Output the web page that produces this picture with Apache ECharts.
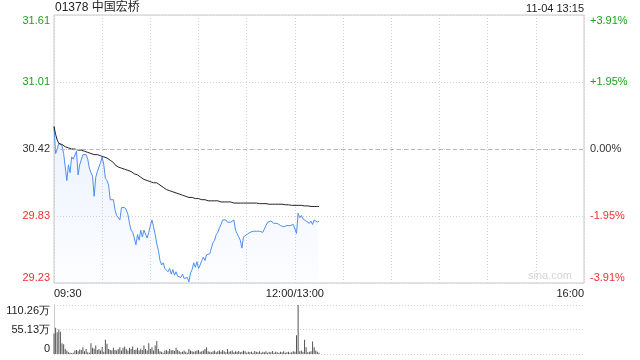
<!DOCTYPE html>
<html><head><meta charset="utf-8">
<script src="https://cdn.jsdelivr.net/npm/echarts@6/dist/echarts.min.js"></script>
<style>html,body{margin:0;padding:0;background:#fff}#c{width:640px;height:360px}</style>
</head><body><div id="c"></div>
<script>
var titleText = '01378 中国宏桥';
var timeText = '11-04 13:15';
var prevClose = 30.42;
var priceTickLabels = ['29.23', '29.83', '30.42', '31.01', '31.61'];
var pctTickLabels = ['-3.91%', '-1.95%', '0.00%', '+1.95%', '+3.91%'];
var tickColors = ['#f23030', '#f23030', '#333333', '#1aa41a', '#1aa41a'];
var timeLabels = {0: '09:30', 150: '12:00/13:00', 330: '16:00'};
var volTickLabels = ['0', '55.13万', '110.26万'];

var prices = [
30.62,30.38,30.42,30.47,30.46,30.45,30.38,30.26,30.14,30.28,
30.21,30.35,30.33,30.32,30.40,30.19,30.28,30.27,30.37,30.37,
30.37,30.33,30.25,30.21,30.18,30.00,30.17,30.22,30.23,30.30,
30.35,30.28,30.16,30.14,30.10,29.97,29.98,29.97,29.88,29.83,
29.82,29.79,29.90,29.91,29.90,29.88,29.84,29.76,29.70,29.68,
29.63,29.57,29.66,29.61,29.70,29.64,29.70,29.69,29.63,29.68,
29.74,29.79,29.73,29.66,29.58,29.52,29.43,29.39,29.41,29.36,
29.37,29.33,29.36,29.31,29.35,29.30,29.33,29.29,29.30,29.28,
29.31,29.27,29.26,29.28,29.24,29.32,29.35,29.41,29.37,29.42,
29.36,29.39,29.43,29.46,29.43,29.48,29.47,29.49,29.50,29.59,
29.61,29.66,29.68,29.72,29.75,29.79,29.80,29.79,29.77,29.77,
29.77,29.78,29.79,29.70,29.67,29.64,29.61,29.54,29.64,29.65,
29.66,29.67,29.68,29.68,29.69,29.69,29.69,29.68,29.69,29.69,
29.68,29.68,29.74,29.77,29.76,29.78,29.77,29.76,29.75,29.76,
29.75,29.74,29.73,29.73,29.74,29.74,29.74,29.74,29.74,29.75,
29.76,29.67,29.85,29.81,29.83,29.80,29.81,29.78,29.79,29.76,
29.78,29.75,29.79,29.80,29.77,29.78
];

var avgPrices = [
30.62,30.55,30.50,30.47,30.47,30.46,30.45,30.44,30.43,30.43,
30.42,30.42,30.42,30.42,30.41,30.41,30.41,30.41,30.40,30.40,
30.39,30.39,30.39,30.38,30.38,30.37,30.37,30.37,30.36,30.36,
30.35,30.35,30.35,30.34,30.33,30.32,30.31,30.30,30.28,30.27,
30.26,30.26,30.25,30.25,30.24,30.24,30.23,30.22,30.22,30.21,
30.20,30.19,30.19,30.18,30.17,30.16,30.15,30.15,30.14,30.14,
30.13,30.13,30.12,30.12,30.12,30.11,30.10,30.09,30.08,30.07,
30.06,30.06,30.05,30.04,30.04,30.03,30.03,30.02,30.02,30.01,
30.01,30.01,30.00,30.00,29.99,29.99,29.99,29.98,29.98,29.98,
29.98,29.97,29.97,29.97,29.97,29.97,29.96,29.96,29.96,29.96,
29.96,29.96,29.96,29.95,29.95,29.95,29.95,29.95,29.95,29.95,
29.95,29.95,29.94,29.94,29.94,29.94,29.94,29.94,29.94,29.94,
29.94,29.94,29.94,29.94,29.94,29.94,29.94,29.935,29.935,29.935,
29.935,29.935,29.935,29.93,29.93,29.93,29.93,29.93,29.93,29.93,
29.93,29.93,29.93,29.925,29.925,29.925,29.925,29.925,29.92,29.92,
29.92,29.92,29.92,29.92,29.92,29.915,29.915,29.915,29.915,29.915,
29.91,29.91,29.91,29.91,29.91,29.91
];

var volumes = [
46,59,49,55,50,24,22,11,8,4,
3,2,3,8,9,6,10,9,15,6,
11,4,3,24,14,12,19,9,11,8,
16,5,32,23,11,9,8,14,9,8,
11,15,8,14,17,11,8,14,11,17,
9,10,14,8,12,9,19,11,8,24,
11,15,8,19,29,11,6,5,3,8,
9,6,11,8,9,7,14,9,6,4,
5,8,5,3,11,8,6,5,6,8,
9,5,6,8,11,15,6,5,4,6,
8,4,6,8,5,9,6,4,11,5,
6,8,4,6,5,7,4,5,8,6,
3,5,4,5,3,7,5,4,6,3,
5,4,6,3,5,4,7,3,5,4,
3,5,4,6,3,4,5,3,4,6,
5,42,110.26,6,8,5,32,15,4,5,
6,28,15,8,5,3
];

function pct(p) { return (p - prevClose) / prevClose * 100; }

var font = '"Liberation Sans", Arial, sans-serif';
var chart = echarts.init(document.getElementById('c'), null, {renderer: 'canvas'});

chart.setOption({
  animation: false,
  backgroundColor: '#fff',
  grid: [
    {left: 54, right: 56, top: 15, height: 268, show: true, borderColor: '#c8c8c8', borderWidth: 1},
    {left: 54, right: 56, top: 305, height: 49}
  ],
  graphic: [
    {type: 'text', left: 55, top: 2, style: {text: titleText, font: '12px "Liberation Sans","Noto Sans CJK SC",sans-serif', fill: '#222'}},
    {type: 'text', right: 56, top: 3, style: {text: timeText, font: '11px ' + font, fill: '#222', textAlign: 'right'}},
    {type: 'text', right: 68, top: 270, style: {text: 'sina.com', font: '11px ' + font, fill: '#d4d4d4'}}
  ],
  xAxis: [
    {
      type: 'value', gridIndex: 0, min: 0, max: 330, interval: 30,
      axisLine: {show: false}, axisTick: {show: false},
      splitLine: {show: true, lineStyle: {color: '#d4d4d4', type: [1, 2], width: 1}},
      axisLabel: {
        show: true, margin: 5, color: '#222', fontSize: 11, fontFamily: font,
        showMinLabel: true, showMaxLabel: true, alignMinLabel: 'left', alignMaxLabel: 'right',
        formatter: function (v) { return timeLabels[v] || ''; }
      }
    },
    {
      type: 'value', gridIndex: 1, min: 0, max: 330, interval: 30,
      axisLine: {show: false}, axisTick: {show: false}, axisLabel: {show: false},
      splitLine: {show: false}
    }
  ],
  yAxis: [
    {
      type: 'value', gridIndex: 0, min: -3.91, max: 3.91, interval: 1.955, position: 'left',
      axisLine: {show: false}, axisTick: {show: false},
      splitLine: {show: true, lineStyle: {color: '#d4d4d4', type: [1, 2], width: 1}},
      axisLabel: {
        margin: 4, fontSize: 11, fontFamily: font, showMinLabel: true, showMaxLabel: true,
        verticalAlignMinLabel: 'bottom', verticalAlignMaxLabel: 'top',
        formatter: function (v, i) { return priceTickLabels[i]; },
        color: function (v, i) { return tickColors[i]; }
      }
    },
    {
      type: 'value', gridIndex: 0, min: -3.91, max: 3.91, interval: 1.955, position: 'right',
      axisLine: {show: false}, axisTick: {show: false}, splitLine: {show: false},
      axisLabel: {
        margin: 6, fontSize: 11, fontFamily: font, showMinLabel: true, showMaxLabel: true,
        verticalAlignMinLabel: 'bottom', verticalAlignMaxLabel: 'top',
        formatter: function (v, i) { return pctTickLabels[i]; },
        color: function (v, i) { return tickColors[i]; }
      }
    },
    {
      type: 'value', gridIndex: 1, min: 0, max: 110.26, interval: 55.13,
      axisLine: {show: true, lineStyle: {color: '#c8c8c8'}}, axisTick: {show: false},
      splitLine: {show: true, lineStyle: {color: '#d4d4d4', type: [1, 2], width: 1}},
      axisLabel: {
        margin: 4, fontSize: 11, fontFamily: font, color: '#222', showMinLabel: true, showMaxLabel: true,
        verticalAlignMinLabel: 'bottom', verticalAlignMaxLabel: 'top',
        formatter: function (v, i) { return volTickLabels[i]; }
      }
    }
  ],
  series: [
    {
      type: 'line', xAxisIndex: 0, yAxisIndex: 0, symbol: 'none', z: 3,
      data: prices.map(function (p, i) { return [i, pct(p)]; }),
      lineStyle: {color: '#4f8ef0', width: 1},
      areaStyle: {
        origin: 'start',
        color: new echarts.graphic.LinearGradient(0, 0, 0, 1, [
          {offset: 0, color: 'rgba(80,140,240,0.16)'},
          {offset: 1, color: 'rgba(80,140,240,0.02)'}
        ])
      }
    },
    {
      type: 'line', xAxisIndex: 0, yAxisIndex: 0, symbol: 'none', z: 4,
      data: avgPrices.map(function (p, i) { return [i, pct(p)]; }),
      lineStyle: {color: '#222', width: 1},
      markLine: {
        silent: true, symbol: 'none', label: {show: false},
        lineStyle: {color: '#b8b8b8', type: [4, 3], width: 1},
        data: [{yAxis: 0}]
      }
    },
    {
      type: 'bar', xAxisIndex: 1, yAxisIndex: 2, barWidth: 1,
      itemStyle: {color: '#555'},
      data: volumes.map(function (v, i) { return [i, v]; })
    }
  ]
});
</script>
</body></html>
